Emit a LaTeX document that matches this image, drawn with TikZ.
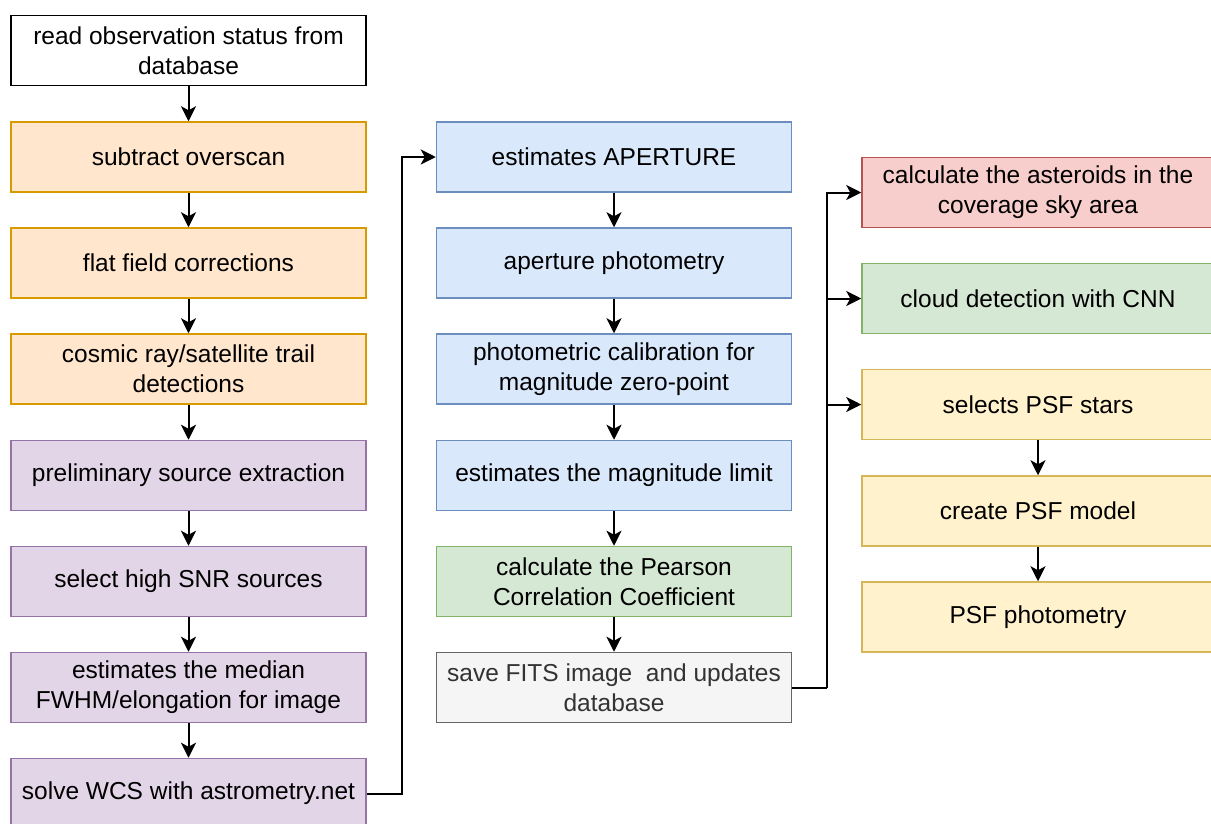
\documentclass[tikz,border=0pt]{standalone}
\usepackage{fontspec}
\setmainfont{Liberation Sans}
\usetikzlibrary{arrows.meta}
\definecolor{orF}{HTML}{FFE6CC}\definecolor{orD}{HTML}{D79B00}
\definecolor{puF}{HTML}{E1D5E7}\definecolor{puD}{HTML}{9673A6}
\definecolor{blF}{HTML}{DAE8FC}\definecolor{blD}{HTML}{6C8EBF}
\definecolor{grF}{HTML}{D5E8D4}\definecolor{grD}{HTML}{82B366}
\definecolor{gyF}{HTML}{F5F5F5}\definecolor{gyD}{HTML}{666666}\definecolor{gyT}{HTML}{333333}
\definecolor{rdF}{HTML}{F8CECC}\definecolor{rdD}{HTML}{B85450}
\definecolor{yeF}{HTML}{FFF2CC}\definecolor{yeD}{HTML}{D6B656}
\tikzset{
  box/.style={draw, line width=1.5pt, minimum width=355pt, minimum height=70pt, inner sep=0pt, align=center,
    font=\fontsize{24.5}{30}\selectfont},
  rbox/.style={box, minimum width=352pt},
  orbox/.style={box, fill=orF, draw=orD},
  pubox/.style={box, fill=puF, draw=puD},
  blbox/.style={box, fill=blF, draw=blD},
  grbox/.style={box, fill=grF, draw=grD},
  gybox/.style={box, fill=gyF, draw=gyD, text=gyT},
  arr/.style={line width=2pt, -{Stealth[length=15pt,width=15pt,inset=4pt]}},
}
\begin{document}
\begin{tikzpicture}[x=1pt,y=-1pt]
\useasboundingbox (0,0) rectangle (1211,823);
% left column
\node[box, fill=white, draw=black] (l1) at (188.5,50.5) {read observation status from\\database};
\node[orbox] (l2) at (188.5,157) {subtract overscan};
\node[orbox] (l3) at (188.5,263) {flat field corrections};
\node[orbox] (l4) at (188.5,369) {cosmic ray/satellite trail\\detections};
\node[pubox] (l5) at (188.5,475.5) {preliminary source extraction};
\node[pubox] (l6) at (188.5,581.5) {select high SNR sources};
\node[pubox] (l7) at (188.5,687.5) {estimates the median\\FWHM/elongation for image};
\node[pubox] (l8) at (188.5,793.5) {solve WCS with astrometry.net};
% middle column
\node[blbox] (m1) at (614,157) {estimates APERTURE};
\node[blbox] (m2) at (614,263) {aperture photometry};
\node[blbox] (m3) at (614,369) {photometric calibration for\\magnitude zero-point};
\node[blbox] (m4) at (614,475.5) {estimates the magnitude limit};
\node[grbox] (m5) at (614,581.5) {calculate the Pearson\\Correlation Coefficient};
\node[gybox] (m6) at (614,687.5) {save FITS image\ \ and updates\\database};
% right column
\node[rbox, fill=rdF, draw=rdD] (r1) at (1038,192.5) {calculate the asteroids in the\\coverage sky area};
\node[rbox, fill=grF, draw=grD] (r2) at (1038,298.5) {cloud detection with CNN};
\node[rbox, fill=yeF, draw=yeD] (r3) at (1038,404.5) {selects PSF stars};
\node[rbox, fill=yeF, draw=yeD] (r4) at (1038,511) {create PSF model};
\node[rbox, fill=yeF, draw=yeD] (r5) at (1038,617) {PSF photometry};
% connectors
\foreach \a/\b in {l1/l2,l2/l3,l3/l4,l4/l5,l5/l6,l6/l7,l7/l8,m1/m2,m2/m3,m3/m4,m4/m5,m5/m6,r3/r4,r4/r5}
  \draw[arr] (\a.south) -- (\b.north);
\draw[arr] (l8.east) -- ++(35,0) |- (m1.west);
\draw[line width=2pt] (m6.east) -- ++(35,0) coordinate (j);
\draw[arr] (j) |- (r1.west);
\draw[arr] (j) |- (r2.west);
\draw[arr] (j) |- (r3.west);
\end{tikzpicture}
\end{document}
